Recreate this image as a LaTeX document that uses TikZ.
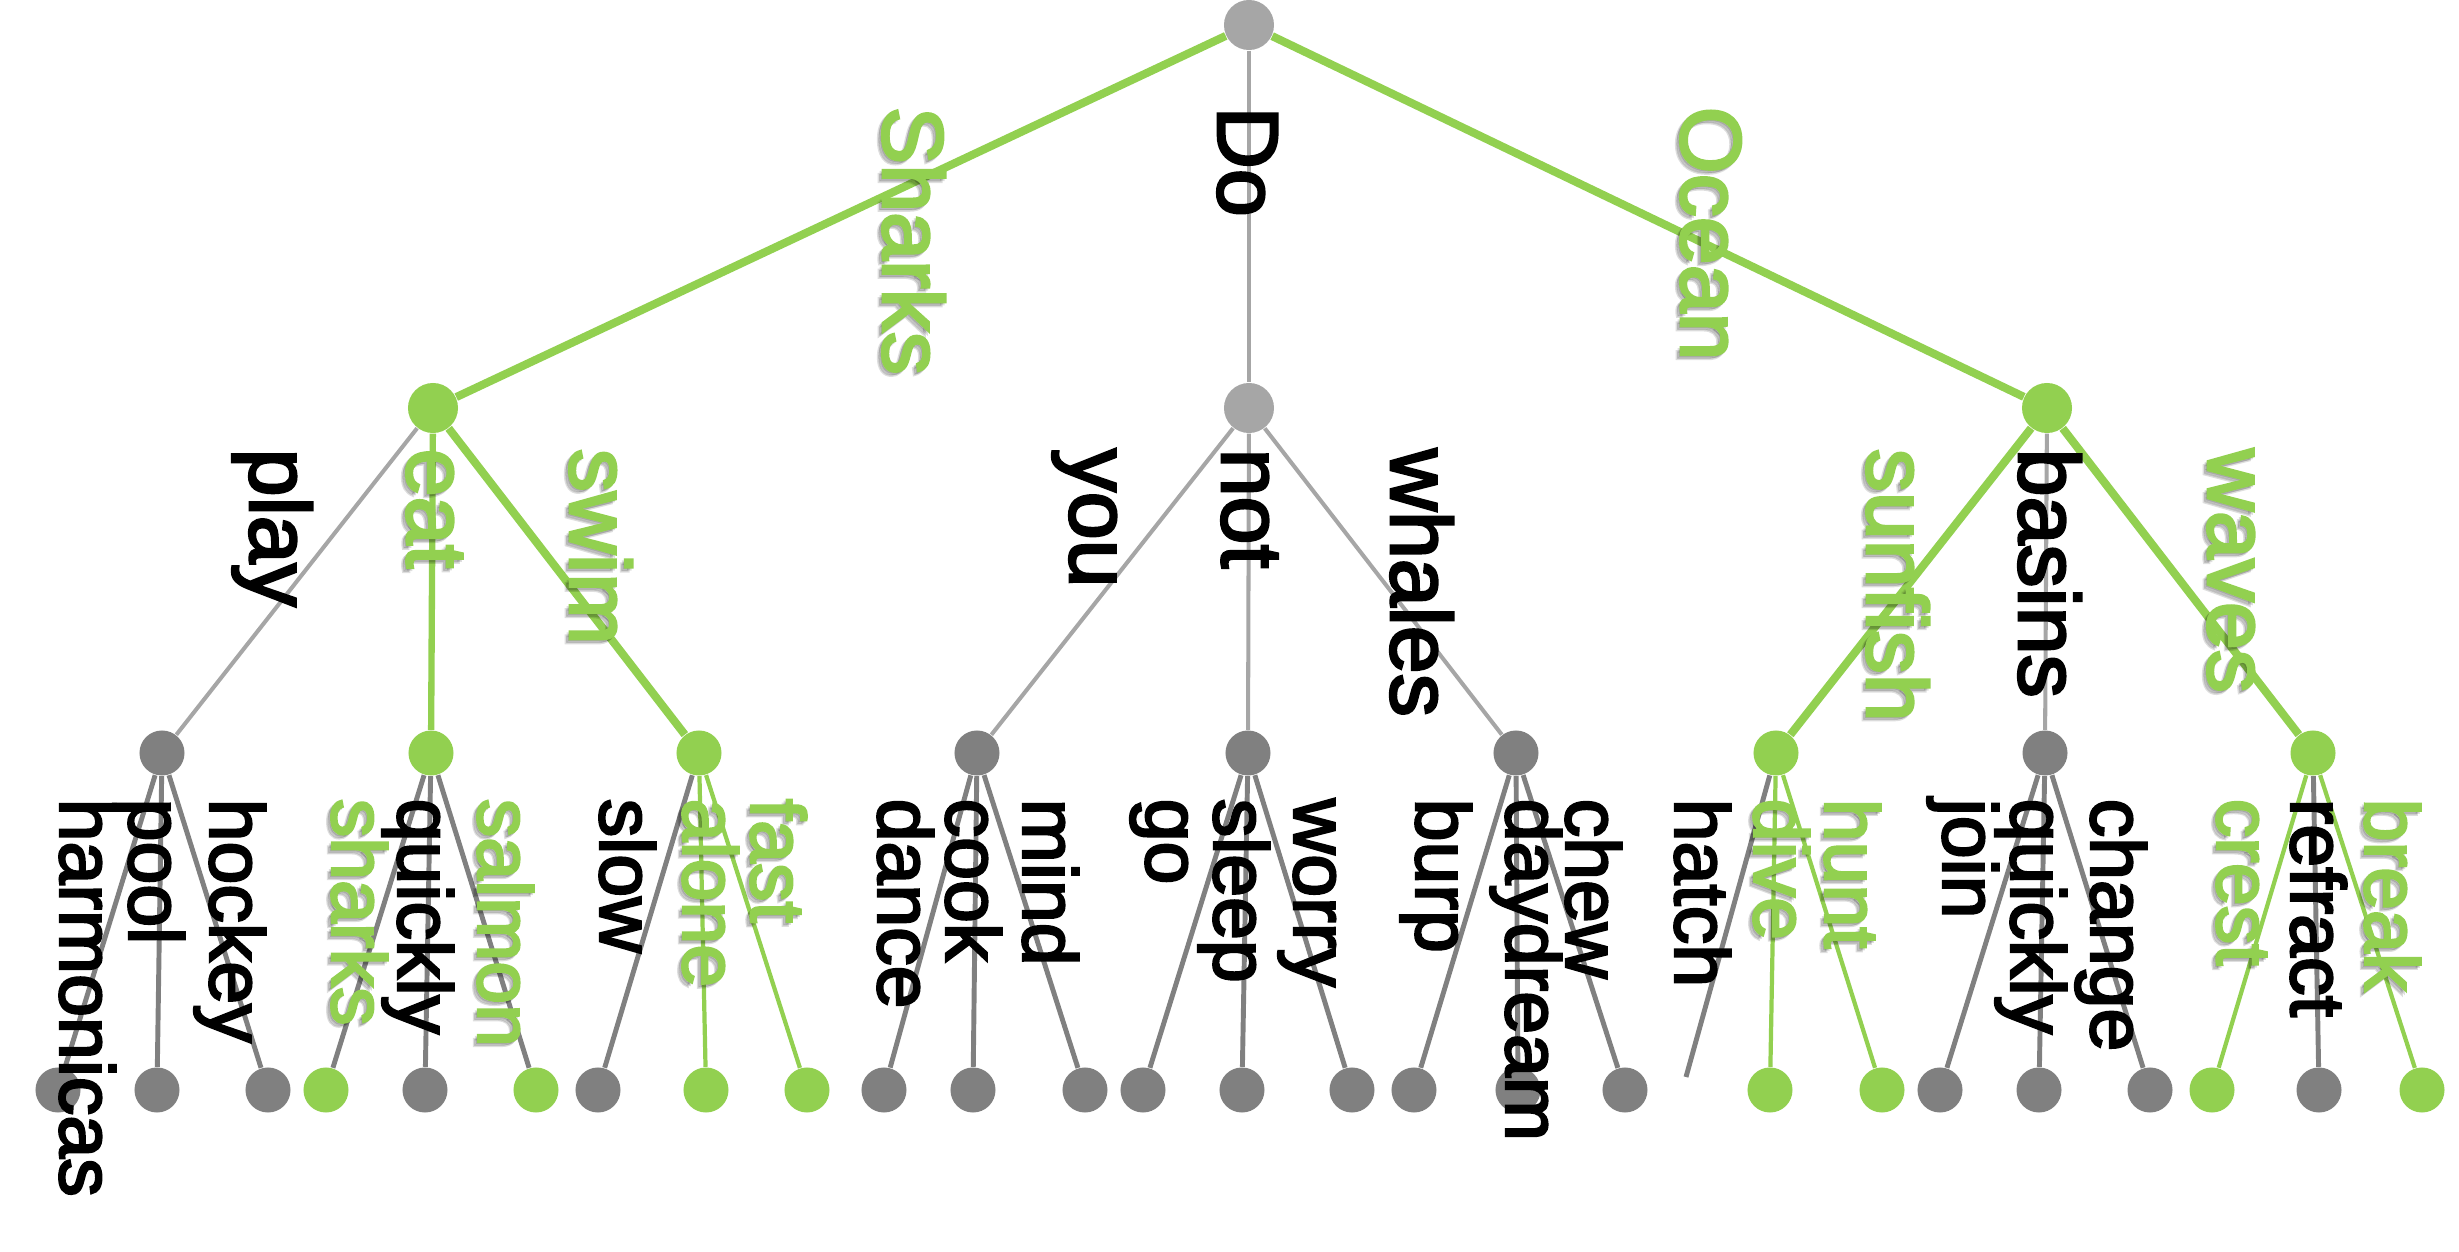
\documentclass[tikz,border=0pt]{standalone}
\usepackage{fontspec}
\setmainfont{Liberation Sans}
\newfontfamily\wordfont{Liberation Sans}[FakeBold=3]
\usetikzlibrary{calc}

\definecolor{leafgreen}{HTML}{92D050}
\definecolor{lightgrey}{HTML}{A6A6A6}
\definecolor{darkgrey}{HTML}{808080}

% green word with its soft drop shadow
\newcommand{\hotlabel}[4][toplbl]{%
  \node[#1, lblshadow] (#2-sh) at ($(#3)+(-4,4)$) {#4};
  \node[#1, lblshadow] (#2-sh2) at ($(#3)+(-2,2)$) {#4};
  \node[#1, hotlbl] (#2) at (#3) {#4};}

\begin{document}
\begin{tikzpicture}[
  x=0.01cm, y=-0.01cm,
  bigdot/.style={circle, inner sep=0pt, minimum size=5mm, fill=lightgrey},
  bigdotg/.style={bigdot, fill=leafgreen},
  smalldot/.style={circle, inner sep=0pt, minimum size=4.5mm, fill=darkgrey},
  smalldotg/.style={smalldot, fill=leafgreen},
  upedge/.style={lightgrey, line width=1.15pt},
  hotedge/.style={leafgreen, line width=2.3pt},
  midedge/.style={leafgreen, line width=1.8pt},
  lowedge/.style={darkgrey, line width=1.4pt},
  lowhot/.style={leafgreen, line width=1.2pt},
  toplbl/.style={rotate=-90, anchor=base west, inner sep=0pt,
                 font=\wordfont\fontsize{24.5}{28}\selectfont},
  leaflbl/.style={toplbl, font=\wordfont\fontsize{21.9}{26}\selectfont},
  hotlbl/.style={text=leafgreen},
  lblshadow/.style={text=black, text opacity=0.13},
]
\useasboundingbox (0,0) rectangle (2459,1252);

% upper levels
\node[bigdot] (root) at (1249,25) {};
\node[bigdotg] (n-sharks) at (433,408) {};
\node[bigdot] (n-do) at (1249,408) {};
\node[bigdotg] (n-ocean) at (2047,408) {};

\node[smalldot] (n-play) at (162,753) {};
\node[smalldotg] (n-eat) at (431,753) {};
\node[smalldotg] (n-swim) at (699,753) {};
\node[smalldot] (n-you) at (977,753) {};
\node[smalldot] (n-not) at (1248,753) {};
\node[smalldot] (n-whales) at (1516,753) {};
\node[smalldotg] (n-sunfish) at (1776,753) {};
\node[smalldot] (n-basins) at (2045,753) {};
\node[smalldotg] (n-waves) at (2313,753) {};

% leaves
\node[smalldot] (lf-harmonicas) at (58,1090) {};
\node[smalldot] (lf-pool) at (157,1090) {};
\node[smalldot] (lf-hockey) at (268,1090) {};
\node[smalldotg] (lf-sharks) at (326,1090) {};
\node[smalldot] (lf-quickly) at (425,1090) {};
\node[smalldotg] (lf-salmon) at (536,1090) {};
\node[smalldot] (lf-slow) at (598,1090) {};
\node[smalldotg] (lf-alone) at (706,1090) {};
\node[smalldotg] (lf-fast) at (807,1090) {};
\node[smalldot] (lf-dance) at (884,1090) {};
\node[smalldot] (lf-cook) at (973,1090) {};
\node[smalldot] (lf-mind) at (1085,1090) {};
\node[smalldot] (lf-go) at (1143,1090) {};
\node[smalldot] (lf-sleep) at (1242,1090) {};
\node[smalldot] (lf-worry) at (1352,1090) {};
\node[smalldot] (lf-burp) at (1414,1090) {};
\node[smalldot] (lf-daydream) at (1518,1090) {};
\node[smalldot] (lf-chew) at (1625,1090) {};
\coordinate (lf-hatch) at (1686,1077);
\node[smalldotg] (lf-dive) at (1770,1090) {};
\node[smalldotg] (lf-hunt) at (1882,1090) {};
\node[smalldot] (lf-join) at (1940,1090) {};
\node[smalldot] (lf-quickly2) at (2039,1090) {};
\node[smalldot] (lf-change) at (2150,1090) {};
\node[smalldotg] (lf-crest) at (2212,1090) {};
\node[smalldot] (lf-refract) at (2319,1090) {};
\node[smalldotg] (lf-break) at (2422,1090) {};

% edges
\draw[hotedge] (root) -- (n-sharks);
\draw[upedge] (root) -- (n-do);
\draw[hotedge] (root) -- (n-ocean);

\draw[upedge] (n-sharks) -- (n-play);
\draw[midedge] (n-sharks) -- (n-eat);
\draw[hotedge] (n-sharks) -- (n-swim);
\draw[upedge] (n-do) -- (n-you);
\draw[upedge] (n-do) -- (n-not);
\draw[upedge] (n-do) -- (n-whales);
\draw[hotedge] (n-ocean) -- (n-sunfish);
\draw[upedge] (n-ocean) -- (n-basins);
\draw[hotedge] (n-ocean) -- (n-waves);

\draw[lowedge] (n-play) -- (lf-harmonicas);
\draw[lowedge] (n-play) -- (lf-pool);
\draw[lowedge] (n-play) -- (lf-hockey);
\draw[lowedge] (n-eat) -- (lf-sharks);
\draw[lowedge] (n-eat) -- (lf-quickly);
\draw[lowedge] (n-eat) -- (lf-salmon);
\draw[lowedge] (n-swim) -- (lf-slow);
\draw[lowhot] (n-swim) -- (lf-alone);
\draw[lowhot] (n-swim) -- (lf-fast);
\draw[lowedge] (n-you) -- (lf-dance);
\draw[lowedge] (n-you) -- (lf-cook);
\draw[lowedge] (n-you) -- (lf-mind);
\draw[lowedge] (n-not) -- (lf-go);
\draw[lowedge] (n-not) -- (lf-sleep);
\draw[lowedge] (n-not) -- (lf-worry);
\draw[lowedge] (n-whales) -- (lf-burp);
\draw[lowedge] (n-whales) -- (lf-daydream);
\draw[lowedge] (n-whales) -- (lf-chew);
\draw[lowedge] (n-sunfish) -- (lf-hatch);
\draw[lowhot] (n-sunfish) -- (lf-dive);
\draw[lowhot] (n-sunfish) -- (lf-hunt);
\draw[lowedge] (n-basins) -- (lf-join);
\draw[lowedge] (n-basins) -- (lf-quickly2);
\draw[lowedge] (n-basins) -- (lf-change);
\draw[lowhot] (n-waves) -- (lf-crest);
\draw[lowedge] (n-waves) -- (lf-refract);
\draw[lowhot] (n-waves) -- (lf-break);

% words
\hotlabel{t-sharks}{883,106}{Sharks}
\node[toplbl] (t-do) at (1218,106) {Do};
\hotlabel{t-ocean}{1681,106}{Ocean}

\node[toplbl] (t-play) at (250,448) {play};
\hotlabel{t-eat}{407,448}{eat}
\hotlabel{t-swim}{570,448}{swim}
\node[toplbl] (t-you) at (1070,448) {you};
\node[toplbl] (t-not) at (1222,448) {not};
\node[toplbl] (t-whales) at (1391,448) {whales};
\hotlabel{t-sunfish}{1867,448}{sunfish}
\node[toplbl] (t-basins) at (2019,448) {basins};
\hotlabel{t-waves}{2208,448}{waves}

\node[leaflbl] (t-harmonicas) at (60,798) {harmonicas};
\node[leaflbl] (t-pool) at (129,798) {pool};
\node[leaflbl] (t-hockey) at (210,798) {hockey};
\hotlabel[leaflbl]{t-sharks2}{332,798}{sharks}
\node[leaflbl] (t-quickly) at (398,798) {quickly};
\hotlabel[leaflbl]{t-salmon}{478,798}{salmon}
\node[leaflbl] (t-slow) at (600,798) {slow};
\hotlabel[leaflbl]{t-alone}{683,798}{alone}
\hotlabel[leaflbl]{t-fast}{751,798}{fast}
\node[leaflbl] (t-dance) at (878,798) {dance};
\node[leaflbl] (t-cook) at (946,798) {cook};
\node[leaflbl] (t-mind) at (1023,798) {mind};
\node[leaflbl] (t-go) at (1146,798) {go};
\node[leaflbl] (t-sleep) at (1214,798) {sleep};
\node[leaflbl] (t-worry) at (1294,798) {worry};
\node[leaflbl] (t-burp) at (1416,798) {burp};
\node[leaflbl] (t-daydream) at (1506,798) {daydream};
\node[leaflbl] (t-chew) at (1566,798) {chew};
\node[leaflbl] (t-hatch) at (1675,798) {hatch};
\hotlabel[leaflbl]{t-dive}{1754,798}{dive}
\hotlabel[leaflbl]{t-hunt}{1825,798}{hunt}
\node[leaflbl] (t-join) at (1943,798) {join};
\node[leaflbl] (t-quickly2) at (2011,798) {quickly};
\node[leaflbl] (t-change) at (2091,798) {change};
\hotlabel[leaflbl]{t-crest}{2217,798}{crest}
\node[leaflbl] (t-refract) at (2291,798) {refract};
\hotlabel[leaflbl]{t-break}{2365,798}{break}
\end{tikzpicture}
\end{document}
